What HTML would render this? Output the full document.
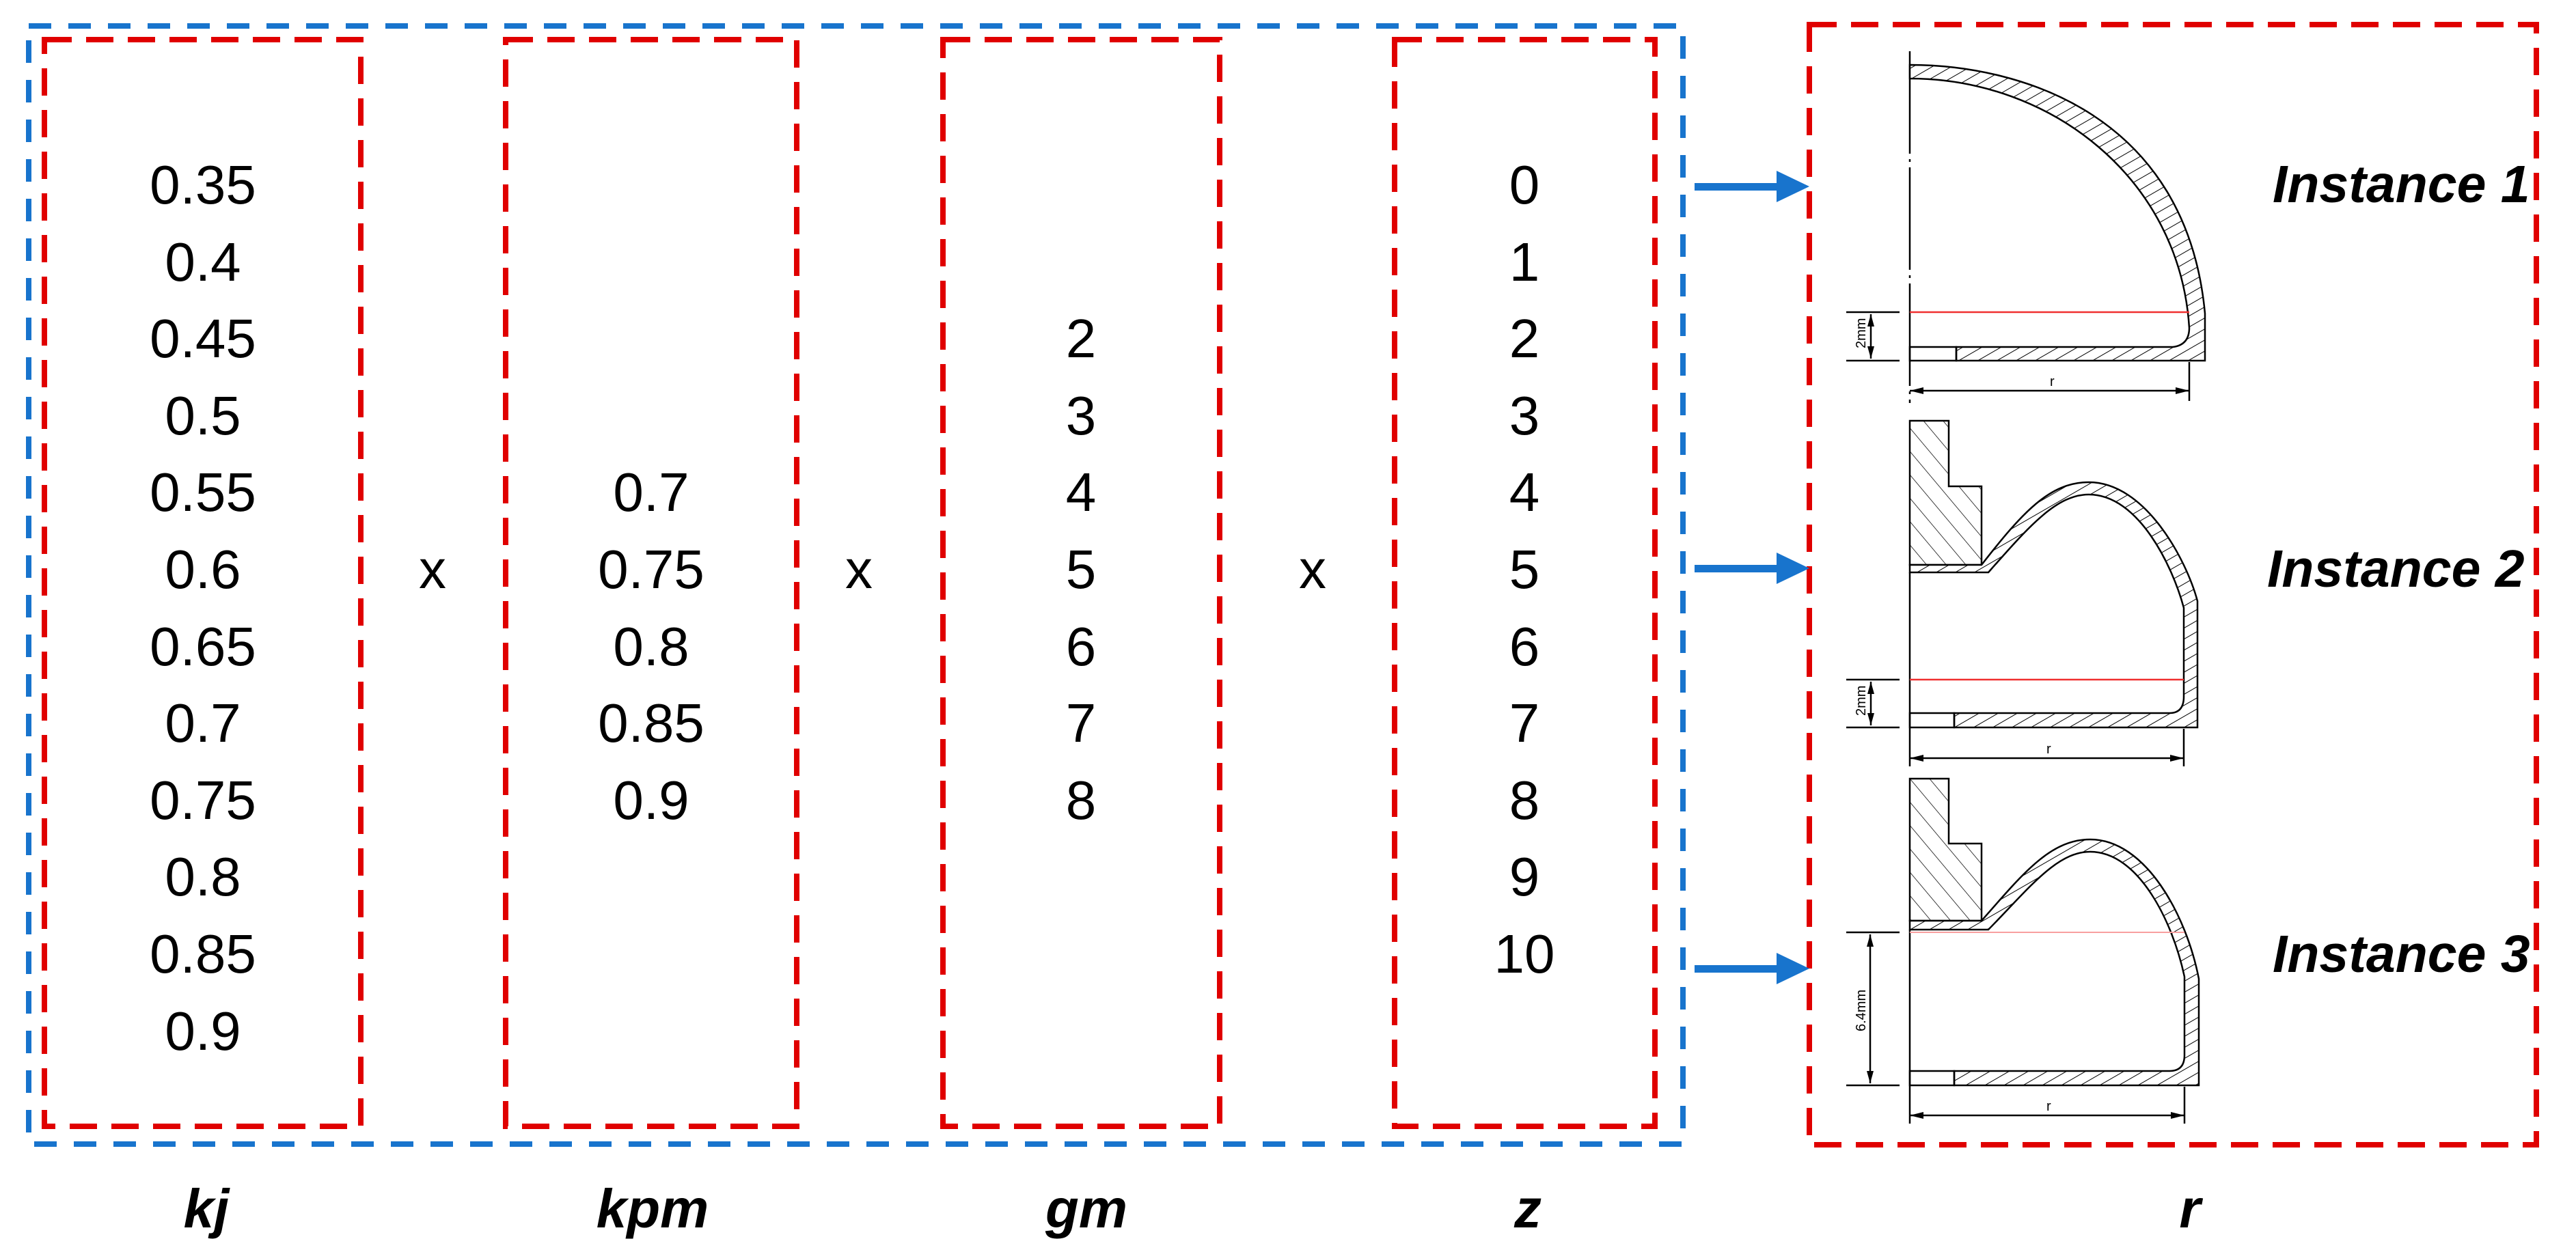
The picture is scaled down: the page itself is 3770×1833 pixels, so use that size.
<!DOCTYPE html>
<html><head><meta charset="utf-8"><style>
html,body{margin:0;padding:0;background:#fff;}
svg{display:block;}
.n{font-family:"Liberation Sans",sans-serif;font-size:80px;fill:#000;text-anchor:middle;}
.l{font-family:"Liberation Sans",sans-serif;font-size:80px;font-weight:bold;font-style:italic;fill:#000;text-anchor:middle;}
.i{font-family:"Liberation Sans",sans-serif;font-size:77px;font-weight:bold;font-style:italic;fill:#000;}
.d{font-family:"Liberation Sans",sans-serif;font-size:20px;fill:#000;}
</style></head><body>
<svg width="3770" height="1833" viewBox="0 0 3770 1833" xmlns="http://www.w3.org/2000/svg">
<defs>
<pattern id="h" patternUnits="userSpaceOnUse" width="14" height="14" patternTransform="rotate(60)">
<rect width="14" height="14" fill="#fff"/><line x1="0" y1="0" x2="0" y2="14" stroke="#000" stroke-width="2"/></pattern>
<pattern id="h2" patternUnits="userSpaceOnUse" width="22" height="22" patternTransform="rotate(-40)">
<rect width="22" height="22" fill="#fff"/><line x1="0" y1="0" x2="0" y2="22" stroke="#000" stroke-width="1.5"/></pattern>
<marker id="ah" markerWidth="10" markerHeight="10" refX="0" refY="5" orient="auto" markerUnits="userSpaceOnUse"></marker>
</defs>
<!-- blue box -->
<rect x="42" y="38" width="2421" height="1637" fill="none" stroke="#1874CD" stroke-width="8" stroke-dasharray="33 25"/>
<!-- red boxes -->
<g fill="none" stroke="#E00000" stroke-width="8" stroke-dasharray="40 21">
<rect x="65" y="58" width="463" height="1591"/>
<rect x="740" y="58" width="426" height="1591"/>
<rect x="1380" y="58" width="405" height="1591"/>
<rect x="2041" y="58" width="381" height="1591"/>
<rect x="2648" y="36" width="1064" height="1640"/>
</g>
<!-- numbers -->
<g class="n">
<text x="297" y="298">0.35</text><text x="297" y="411">0.4</text><text x="297" y="523">0.45</text><text x="297" y="636">0.5</text><text x="297" y="748">0.55</text><text x="297" y="861">0.6</text><text x="297" y="974">0.65</text><text x="297" y="1086">0.7</text><text x="297" y="1199">0.75</text><text x="297" y="1311">0.8</text><text x="297" y="1424">0.85</text><text x="297" y="1537">0.9</text>
<text x="953" y="748">0.7</text><text x="953" y="861">0.75</text><text x="953" y="974">0.8</text><text x="953" y="1086">0.85</text><text x="953" y="1199">0.9</text>
<text x="1582" y="523">2</text><text x="1582" y="636">3</text><text x="1582" y="748">4</text><text x="1582" y="861">5</text><text x="1582" y="974">6</text><text x="1582" y="1086">7</text><text x="1582" y="1199">8</text>
<text x="2231" y="298">0</text><text x="2231" y="411">1</text><text x="2231" y="523">2</text><text x="2231" y="636">3</text><text x="2231" y="748">4</text><text x="2231" y="861">5</text><text x="2231" y="974">6</text><text x="2231" y="1086">7</text><text x="2231" y="1199">8</text><text x="2231" y="1311">9</text><text x="2231" y="1424">10</text>
<text x="633" y="861">x</text><text x="1257" y="861">x</text><text x="1921" y="861">x</text>
</g>
<g class="l">
<text x="302" y="1797">kj</text><text x="955" y="1797">kpm</text><text x="1590" y="1797">gm</text><text x="2236" y="1797">z</text><text x="3205" y="1797">r</text>
</g>
<!-- arrows -->
<g fill="#1874CD" stroke="none">
<rect x="2480" y="268" width="125" height="11"/><polygon points="2600,250 2648,273 2600,296"/>
<rect x="2480" y="827" width="125" height="11"/><polygon points="2600,809 2648,832 2600,855"/>
<rect x="2480" y="1413" width="125" height="11"/><polygon points="2600,1395 2648,1418 2600,1441"/>
</g>
<!-- Instance labels -->
<text class="i" x="3326" y="296">Instance 1</text>
<text class="i" x="3318" y="859">Instance 2</text>
<text class="i" x="3326" y="1423">Instance 3</text>

<g stroke="#000" stroke-width="2.5" fill="none">
<!-- Instance 1 -->
<line x1="2795" y1="75" x2="2795" y2="590" stroke-dasharray="150 8 4 8"/>
<path d="M2795,95 C2960,95 3200,170 3227,459 L3227,528 L2863,528 L2863,508 L3180,508 Q3204,505 3204,480 C3190,260 3000,115 2795,115 Z" fill="url(#h)"/>
<rect x="2795" y="508" width="68" height="20"/>
<line x1="2702" y1="457" x2="2780" y2="457"/><line x1="2702" y1="528" x2="2780" y2="528"/>
<line x1="2738" y1="460" x2="2738" y2="525"/>
<line x1="3204" y1="530" x2="3204" y2="587"/>
<line x1="2795" y1="572" x2="3204" y2="572"/>
<!-- Instance 2 -->
<path d="M2795,616 L2852,616 L2852,712 L2900,712 L2900,827 L2795,827 Z" fill="url(#h2)"/>
<path d="M2795,827 L2900,827 C2960,750 3000,706 3057,706 C3140,706 3200,820 3216,880 L3216,1065 L2860,1065 L2860,1044 L3175,1044 Q3196,1044 3196,1020 L3196,890 C3180,830 3130,724 3057,724 C3010,724 2970,770 2910,838 L2795,838 Z" fill="url(#h)"/>
<rect x="2795" y="1044" width="65" height="21"/>
<line x1="2795" y1="838" x2="2795" y2="1122"/>
<line x1="2702" y1="995" x2="2780" y2="995"/><line x1="2702" y1="1065" x2="2780" y2="1065"/>
<line x1="2738" y1="998" x2="2738" y2="1062"/>
<line x1="3196" y1="1067" x2="3196" y2="1122"/>
<line x1="2795" y1="1110" x2="3196" y2="1110"/>
<!-- Instance 3 -->
<path d="M2795,1140 L2852,1140 L2852,1235 L2900,1235 L2900,1348 L2795,1348 Z" fill="url(#h2)"/>
<path d="M2795,1348 L2900,1348 C2960,1280 3000,1229 3059,1229 C3140,1229 3200,1340 3218,1433 L3218,1589 L2860,1589 L2860,1568 L3175,1568 Q3197,1568 3197,1545 L3197,1430 C3180,1350 3130,1247 3059,1247 C3010,1247 2970,1300 2910,1361 L2795,1361 Z" fill="url(#h)"/>
<rect x="2795" y="1568" width="65" height="21"/>
<line x1="2795" y1="1361" x2="2795" y2="1645"/>
<line x1="2702" y1="1365" x2="2780" y2="1365"/><line x1="2702" y1="1589" x2="2780" y2="1589"/>
<line x1="2737" y1="1368" x2="2737" y2="1586"/>
<line x1="3197" y1="1591" x2="3197" y2="1645"/>
<line x1="2795" y1="1633" x2="3197" y2="1633"/>
</g>
<!-- red reference lines -->
<line x1="2795" y1="457" x2="3204" y2="457" stroke="#f03030" stroke-width="2.5"/>
<line x1="2795" y1="995" x2="3196" y2="995" stroke="#f03030" stroke-width="2.5"/>
<line x1="2795" y1="1365" x2="3197" y2="1365" stroke="#f8a0a0" stroke-width="2"/>
<!-- dim arrowheads -->
<g fill="#000">
<polygon points="2738,460 2733,478 2743,478"/><polygon points="2738,525 2733,507 2743,507"/>
<polygon points="2738,998 2733,1016 2743,1016"/><polygon points="2738,1062 2733,1044 2743,1044"/>
<polygon points="2737,1368 2732,1386 2742,1386"/><polygon points="2737,1586 2732,1568 2742,1568"/>
<polygon points="2795,572 2815,567 2815,577"/><polygon points="3204,572 3184,567 3184,577"/>
<polygon points="2795,1110 2815,1105 2815,1115"/><polygon points="3196,1110 3176,1105 3176,1115"/>
<polygon points="2795,1633 2815,1628 2815,1638"/><polygon points="3197,1633 3177,1628 3177,1638"/>
</g>
<g class="d">
<text x="3000" y="565">r</text><text x="2995" y="1103">r</text><text x="2995" y="1626">r</text>
<text transform="translate(2730,510) rotate(-90)">2mm</text>
<text transform="translate(2730,1048) rotate(-90)">2mm</text>
<text transform="translate(2730,1510) rotate(-90)">6.4mm</text>
</g>
</svg>
</body></html>
